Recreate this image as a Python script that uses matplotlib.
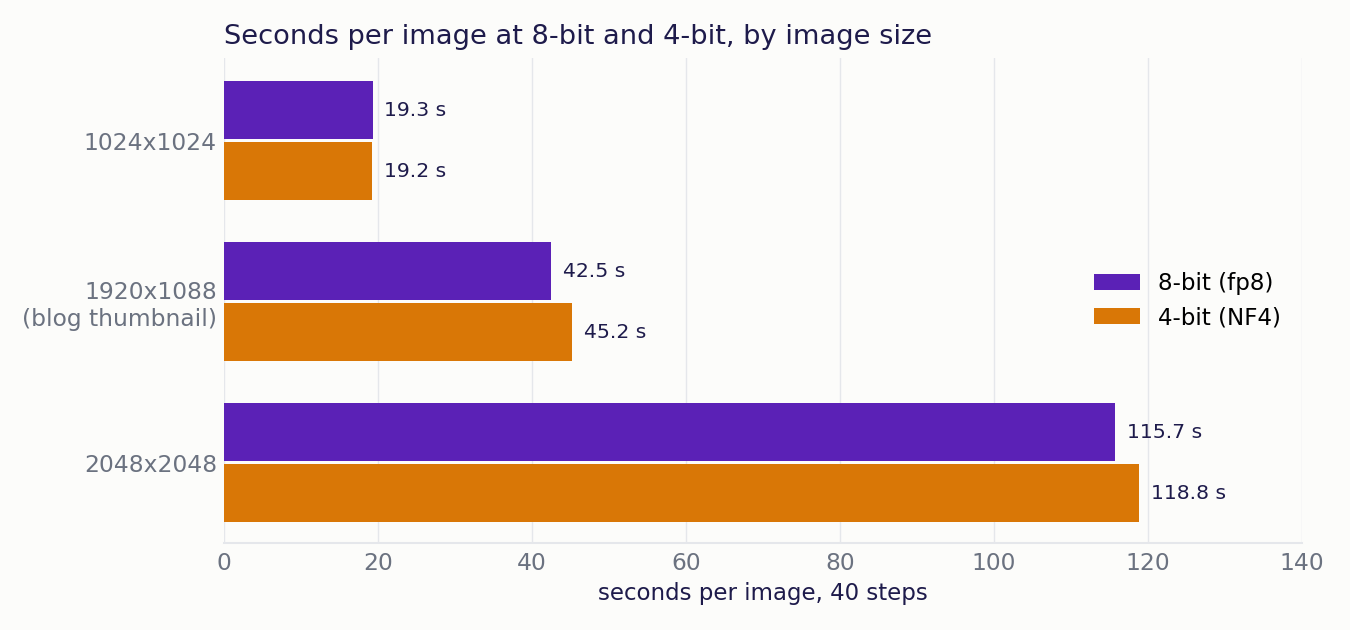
import matplotlib
matplotlib.use("Agg")
import matplotlib.pyplot as plt
import numpy as np

sizes = ["1024x1024", "1920x1088\n(blog thumbnail)", "2048x2048"]
fp8_secs = [19.3, 42.5, 115.7]
nf4_secs = [19.2, 45.2, 118.8]
series_names = ["8-bit (fp8)", "4-bit (NF4)"]

BG = "#fcfcfa"
PURPLE = "#5b21b6"
ORANGE = "#d97706"
INK = "#1e1b4b"
GREY = "#6b7280"
GRID = "#e5e7eb"

fig = plt.figure(figsize=(13.5, 6.3), dpi=100, facecolor=BG)
ax = fig.add_axes([0.1659, 0.1381, 0.9644 - 0.1659, 0.9079 - 0.1381])
ax.set_facecolor(BG)

y = np.arange(len(sizes))
h = 0.36
off = 0.19
b1 = ax.barh(y - off, fp8_secs, height=h, color=PURPLE, label=series_names[0], zorder=3)
b2 = ax.barh(y + off, nf4_secs, height=h, color=ORANGE, label=series_names[1], zorder=3)

for bars, vals in [(b1, fp8_secs), (b2, nf4_secs)]:
    for bar, v in zip(bars, vals):
        ax.annotate(f"{v} s", (v, bar.get_y() + bar.get_height() / 2),
                    xytext=(8.5, 0), textcoords="offset points",
                    va="center", ha="left", fontsize=14.7, color=INK)

ax.set_xlim(0, 140)
ax.set_ylim(2.5, -0.515)
ax.set_xticks(range(0, 141, 20))
ax.set_yticks(y)
ax.set_yticklabels(sizes)
ax.tick_params(axis="both", length=0, labelsize=16.8, labelcolor=GREY)
ax.tick_params(axis="y", pad=5)
ax.tick_params(axis="x", pad=6.5)
ax.grid(axis="x", color=GRID, linewidth=1, zorder=0)
ax.grid(axis="y", visible=False)
for s in ["top", "right", "left"]:
    ax.spines[s].set_visible(False)
ax.spines["bottom"].set_color(GRID)
ax.spines["bottom"].set_linewidth(1.5)

ax.set_xlabel("seconds per image, 40 steps", fontsize=16.5, color=INK, labelpad=5)
ax.set_title("Seconds per image at 8-bit and 4-bit, by image size",
             loc="left", fontsize=19.6, color=INK, pad=10)

ax.legend(loc="center right", bbox_to_anchor=(1.0, 0.5), frameon=False,
          fontsize=16.6, handlelength=2.0, handleheight=0.7, labelspacing=0.5)

fig.savefig("out.png", dpi=100, facecolor=BG)
